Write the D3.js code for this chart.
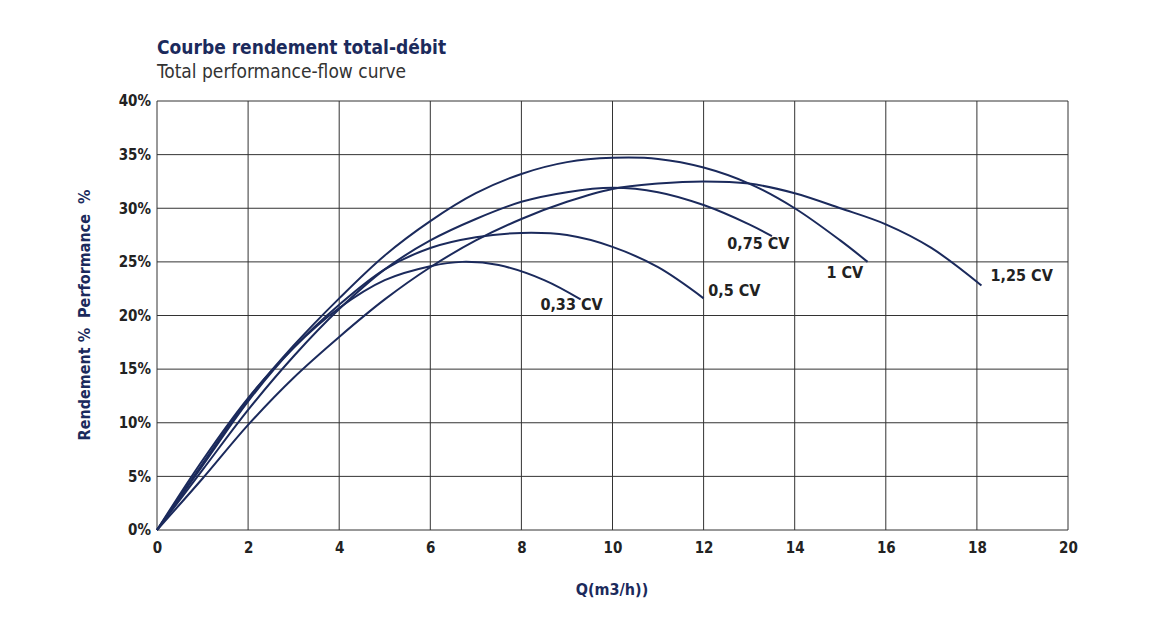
<!DOCTYPE html><html><head><meta charset="utf-8"><script src="https://cdn.jsdelivr.net/npm/d3@7"></script>
<style>body{margin:0;background:#fff}text{font-family:"DejaVu Sans Condensed","DejaVu Sans",sans-serif;font-stretch:condensed}</style></head><body>
<svg id="c" width="1158" height="620"></svg>
<script>
const xTicks=[0,2,4,6,8,10,12,14,16,18,20];
const yTicks=[0,5,10,15,20,25,30,35,40];
const labels=["0,33 CV","0,5 CV","0,75 CV","1 CV","1,25 CV"];
const s033=[[0,0],[1,6.5],[2,12.3],[3,17],[4,20.7],[5,23.3],[6,24.6],[6.7,25],[7.5,24.7],[8.5,23.3],[9.3,21.5]];
const s05=[[0,0],[1,6],[2,12],[3,17],[4,21],[5,24.3],[6,26.3],[7,27.3],[8,27.7],[9,27.5],[10,26.4],[11,24.5],[12,21.6]];
const s075=[[0,0],[1,5.6],[2,11.2],[3,16.2],[4,20.6],[5,24.3],[6,27],[7,29],[8,30.6],[9,31.5],[10,31.9],[11,31.5],[12,30.3],[13,28.5],[13.5,27.4]];
const s1=[[0,0],[1,6.2],[2,12.2],[3,17.2],[4,21.6],[5,25.6],[6,28.8],[7,31.4],[8,33.2],[9,34.3],[10,34.7],[11,34.6],[12,33.8],[13,32.3],[14,30],[15,27],[15.6,25]];
const s125=[[0,0],[1,4.8],[2,9.8],[3,14.2],[4,18],[5,21.5],[6,24.5],[7,27],[8,29],[9,30.6],[10,31.8],[11,32.3],[12,32.5],[13,32.3],[14,31.4],[15,30],[16,28.5],[17,26.3],[18.1,22.8]];
const series=[s033,s05,s075,s1,s125];
const labelPos=[[9.1,20.5,"middle"],[12.1,21.8,"start"],[13.2,26.2,"middle"],[15.1,23.5,"middle"],[18.3,23.2,"start"]];
const col="#1b2a5c";
const svg=d3.select("#c");
const x=d3.scaleLinear().domain([0,20]).range([157,1068]);
const y=d3.scaleLinear().domain([0,40]).range([530,101]);
const g=svg.append("g");
xTicks.forEach(t=>g.append("line").attr("x1",x(t)).attr("x2",x(t)).attr("y1",y(0)).attr("y2",y(40)).attr("stroke","#333").attr("stroke-width",1));
yTicks.forEach(t=>g.append("line").attr("x1",x(0)).attr("x2",x(20)).attr("y1",y(t)).attr("y2",y(t)).attr("stroke","#333").attr("stroke-width",1));
const xa=svg.append("g").attr("transform",`translate(0,${y(0)})`).call(d3.axisBottom(x).tickValues(xTicks).tickSize(0).tickPadding(12));
const ya=svg.append("g").attr("transform",`translate(${x(0)},0)`).call(d3.axisLeft(y).tickValues(yTicks).tickSize(0).tickPadding(6).tickFormat(d=>d+"%"));
[xa,ya].forEach(a=>{a.select(".domain").remove();a.selectAll("text").attr("font-size",15).attr("font-weight","bold").attr("fill","#222").style("font-family","DejaVu Sans Condensed")});
const line=d3.line().x(d=>x(d[0])).y(d=>y(d[1])).curve(d3.curveCatmullRom);
series.forEach((s,i)=>{svg.append("path").attr("d",line(s)).attr("fill","none").attr("stroke",col).attr("stroke-width",2);
 const p=labelPos[i];svg.append("text").attr("x",x(p[0])).attr("y",y(p[1])).attr("text-anchor",p[2]).attr("font-size",16).attr("font-weight","bold").attr("fill","#222").text(labels[i]);});
svg.append("text").attr("x",157).attr("y",54).attr("font-size",19).attr("font-weight","bold").attr("fill",col).text("Courbe rendement total-débit");
svg.append("text").attr("x",157).attr("y",78).attr("font-size",19).attr("fill","#333").text("Total performance-flow curve");
svg.append("text").attr("transform","translate(90,315) rotate(-90)").attr("text-anchor","middle").attr("font-size",16).attr("font-weight","bold").attr("fill",col).text("Rendement %\u00a0\u00a0Performance\u00a0\u00a0%");
svg.append("text").attr("x",612).attr("y",595).attr("text-anchor","middle").attr("font-size",16).attr("font-weight","bold").attr("fill",col).text("Q(m3/h))");
</script></body></html>
